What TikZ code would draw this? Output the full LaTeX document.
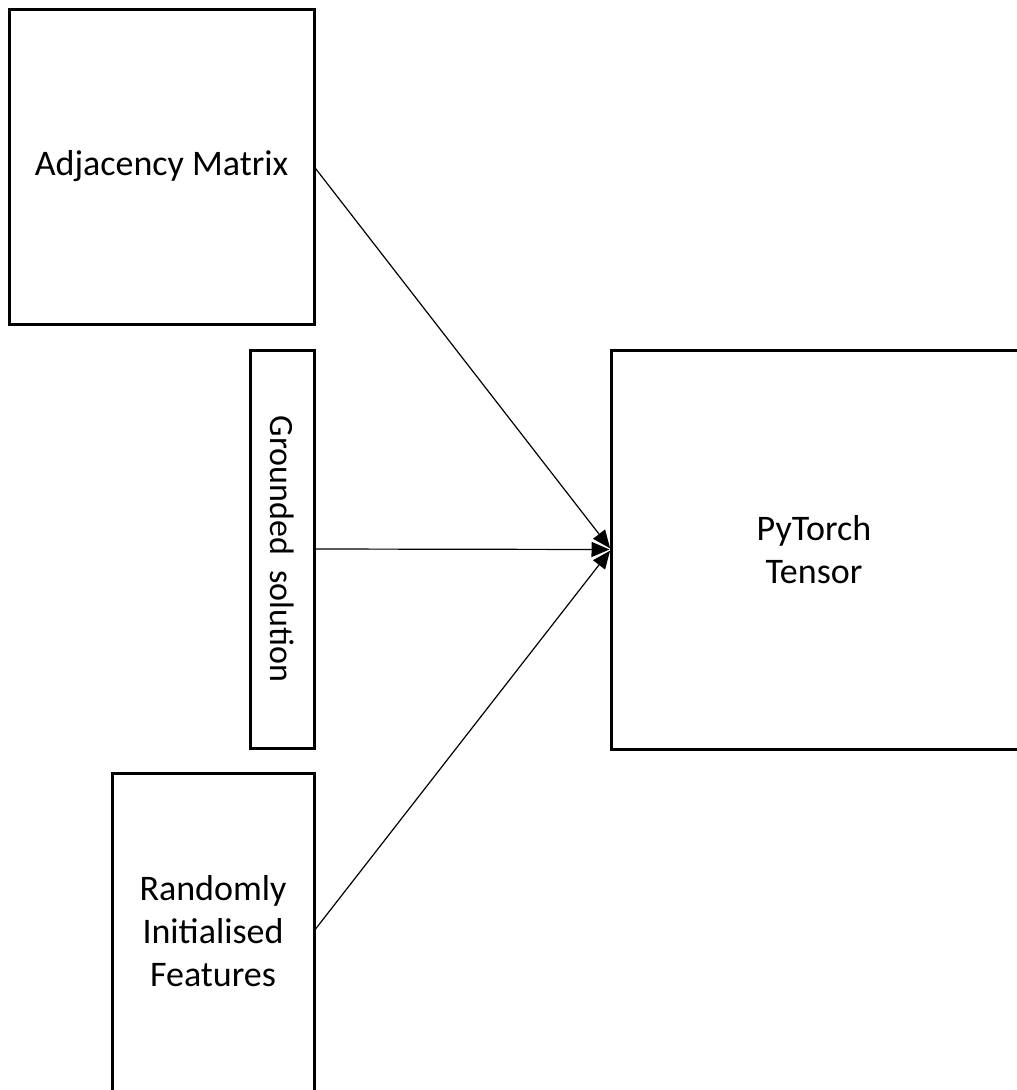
\documentclass[tikz,border=0pt]{standalone}
\usepackage{fontspec}
\setmainfont{Carlito}
\usetikzlibrary{arrows.meta,calc}

\tikzset{
  boxline/.style={line width=3pt, draw=black},
  blockbox/.style={boxline, inner sep=0pt, outer sep=0pt, align=center,
    font=\fontsize{36}{43}\selectfont},
  openbox/.style={inner sep=0pt, outer sep=0pt, align=center,
    font=\fontsize{36}{43}\selectfont},
  feed/.style={line width=1.2pt, -{Triangle[length=18pt,width=15pt]}, shorten >=1.5pt}
}

\begin{document}
\begin{tikzpicture}[x=1pt,y=-1pt]
  \useasboundingbox (0,0) rectangle (1017,1090);
  \clip (0,0) rectangle (1017,1090);

  % input blocks
  \node[blockbox, minimum width=305pt, minimum height=315pt] (adj) at (161.5,166.5) {Adjacency Matrix};
  \node[blockbox, minimum width=64pt, minimum height=398pt] (ground) at (282,549) {};
  \node[rotate=-90, font=\fontsize{34}{41}\selectfont] (groundtxt) at (ground.center) {Grounded\ \ solution};

  % lower block, running off the bottom edge
  \node[openbox, minimum width=202pt, minimum height=316pt] (rand) at (213,931) {Randomly\\Initialised\\Features};
  \draw[boxline] ($(rand.south west)+(0,20)$) |- (rand.north east) -- ($(rand.south east)+(0,20)$);

  % output block, running off the right edge
  \node[openbox, minimum width=406pt, minimum height=399pt] (torch) at (814,549.5) {PyTorch\\Tensor};
  \draw[boxline] ($(torch.north east)+(20,0)$) -| (torch.south west) -- ($(torch.south east)+(20,0)$);

  % connectors
  \draw[feed] (adj.east) -- (torch.west);
  \draw[feed] (ground.east) -- (torch.west);
  \draw[feed] (rand.east) -- (torch.west);
\end{tikzpicture}
\end{document}
